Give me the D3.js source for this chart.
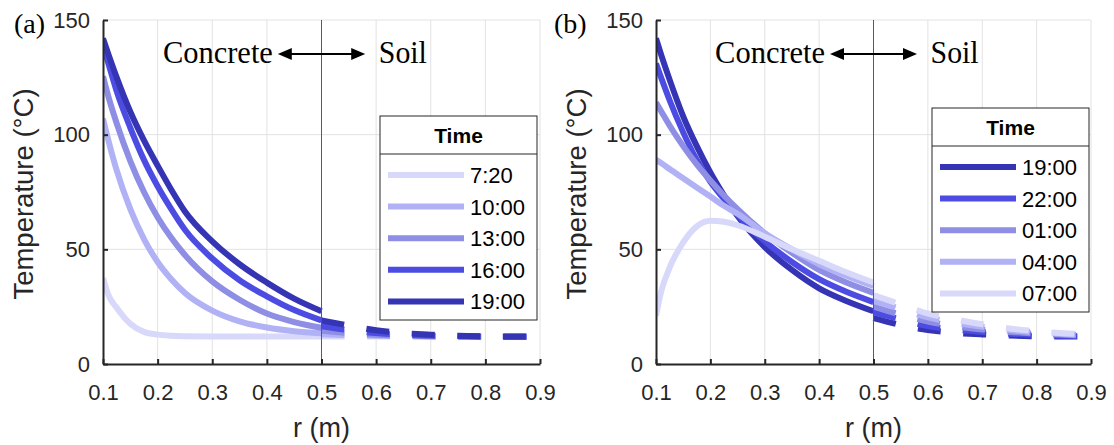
<!DOCTYPE html>
<html>
<head>
<meta charset="utf-8">
<script src="https://cdn.jsdelivr.net/npm/d3@7"></script>
<style>
  body { margin: 0; background: #fff; }
  svg { display: block; }
</style>
</head>
<body>
<svg id="chart" width="1114" height="445"></svg>
<script>
/* radius samples (m) */
var rConcrete = [0.1, 0.11, 0.125, 0.15, 0.175, 0.2, 0.225, 0.25, 0.3, 0.35, 0.4, 0.45, 0.5];
var rSoil = [0.5, 0.55, 0.6, 0.65, 0.7, 0.75, 0.8, 0.85, 0.9];
var xTicks = [0.1, 0.2, 0.3, 0.4, 0.5, 0.6, 0.7, 0.8, 0.9];
var yTicks = [0, 50, 100, 150];

// (a) heating
var timesA = ["7:20", "10:00", "13:00", "16:00", "19:00"];
var concreteA = [
  [37.5, 30, 24.5, 17.5, 14, 12.8, 12.3, 12.1, 12, 12, 12, 12, 12],
  [107, 97.4, 84.5, 67.5, 54.5, 44.5, 37, 31, 23.3, 18.6, 15.9, 14.3, 13.4],
  [125.5, 116.5, 105, 88.5, 75, 64, 55, 47.5, 36, 28, 22, 18.3, 15.8],
  [139, 131, 119, 103, 89, 77.5, 67.5, 58.5, 46, 36.5, 29.5, 23.5, 19],
  [142, 135, 125, 110, 97.5, 86.5, 76, 66.5, 53.5, 43.5, 35.5, 28.5, 23]
];
var soilA = [
  [12, 12, 12, 12, 12, 12, 12, 11.9, 11.9],
  [13, 12.6, 12.3, 12.1, 12, 12, 11.9, 11.9, 11.9],
  [14.5, 13.5, 12.8, 12.4, 12.1, 12, 11.9, 11.9, 11.9],
  [16.5, 14.8, 13.5, 12.8, 12.4, 12.1, 12, 11.9, 11.9],
  [19, 16.8, 14.7, 13.5, 12.8, 12.3, 12.1, 12, 11.9]
];

// (b) cooling
var timesB = ["19:00", "22:00", "01:00", "04:00", "07:00"];
var concreteB = [
  [142, 134.5, 124, 108, 95, 83.5, 73.5, 64.5, 51, 41, 33, 27.5, 23],
  [131, 124.5, 115, 101, 89, 79.5, 72, 65, 53.5, 44.5, 37, 31.5, 27],
  [114, 110, 104, 95, 87, 80, 73.5, 67.5, 57, 48.5, 41, 35.5, 31],
  [89, 87.5, 85, 81, 77, 73, 69, 65.5, 57, 50, 43.5, 38.5, 34],
  [21, 32, 42, 53, 60, 62.5, 62, 60.5, 55.5, 50, 45, 40, 35.5]
];
var soilB = [
  [20, 17, 14.8, 13.6, 12.9, 12.4, 12.1, 12, 11.9],
  [22.5, 19.5, 16.5, 15, 14, 13.2, 12.7, 12.3, 12.1],
  [25, 21.5, 18.5, 16.5, 15, 14, 13.3, 12.7, 12.3],
  [27.5, 24, 20.3, 18, 16.2, 14.8, 13.8, 13.1, 12.6],
  [30, 26, 22, 19.5, 17.3, 15.5, 14.3, 13.4, 12.8]
];

var blues = ["#d8d8fb", "#b1b1f6", "#8e8ee4", "#4c4ce2", "#3434b4"];

var svg = d3.select("#chart");
var TOP = 20, BOTTOM = 364;
var SANS = "'Liberation Sans', Arial, Helvetica, sans-serif";
var SERIF = "'Liberation Serif', 'Times New Roman', serif";
var INK = "#262626";

drawPanel({ id: "a", letter: "(a)", letterX: 14, left: 103, right: 540,
  times: timesA, concrete: concreteA, soil: soilA, colors: blues,
  legend: { x: 380, y: 116 } });
drawPanel({ id: "b", letter: "(b)", letterX: 554, left: 656, right: 1091,
  times: timesB, concrete: concreteB, soil: soilB, colors: blues.slice().reverse(),
  legend: { x: 932, y: 108 } });

function drawPanel(p) {
  var g = svg.append("g").attr("class", "panel-" + p.id);
  var x = d3.scaleLinear().domain([0.1, 0.9]).range([p.left, p.right]);
  var y = d3.scaleLinear().domain([0, 150]).range([BOTTOM, TOP]);

  // grid
  var grid = g.append("g").attr("stroke", "#e2e2e2").attr("stroke-width", 1);
  grid.selectAll(".gx").data(xTicks.slice(1)).join("line")
    .attr("x1", d => x(d)).attr("x2", d => x(d))
    .attr("y1", y(0)).attr("y2", y(150));
  grid.selectAll(".gy").data(yTicks.slice(1)).join("line")
    .attr("x1", x(0.1)).attr("x2", x(0.9))
    .attr("y1", d => y(d)).attr("y2", d => y(d));

  g.append("clipPath").attr("id", "clip-" + p.id)
    .append("rect")
    .attr("x", x(0.1)).attr("y", y(150))
    .attr("width", x(0.9) - x(0.1)).attr("height", y(0) - y(150));

  var line = d3.line()
    .x(d => x(d[0])).y(d => y(d[1]))
    .curve(d3.curveMonotoneX);

  var lines = g.append("g").attr("clip-path", "url(#clip-" + p.id + ")")
    .attr("fill", "none").attr("stroke-width", 6).attr("stroke-linejoin", "round");

  p.times.forEach((t, i) => {
    lines.append("path")
      .datum(d3.zip(rConcrete, p.concrete[i]))
      .attr("d", line)
      .attr("stroke", p.colors[i]);
    lines.append("path")
      .datum(d3.zip(rSoil, p.soil[i]))
      .attr("d", line)
      .attr("stroke", p.colors[i])
      .attr("stroke-dasharray", "23,22.6");
  });

  // concrete / soil interface
  g.append("line")
    .attr("x1", x(0.5)).attr("x2", x(0.5))
    .attr("y1", y(0)).attr("y2", y(150))
    .attr("stroke", "#5a5a5a").attr("stroke-width", 1);

  // axes
  var xAxis = g.append("g")
    .attr("transform", "translate(0," + BOTTOM + ")")
    .call(d3.axisBottom(x).tickValues(xTicks).tickFormat(d3.format(".1f"))
      .tickSize(-5).tickSizeOuter(0).tickPadding(20));
  var yAxis = g.append("g")
    .attr("transform", "translate(" + p.left + ",0)")
    .call(d3.axisLeft(y).tickValues(yTicks)
      .tickSize(-5).tickSizeOuter(0).tickPadding(13));

  [xAxis, yAxis].forEach(ax => {
    ax.select(".domain").attr("stroke", INK).attr("stroke-width", 2);
    ax.selectAll(".tick line").attr("stroke", INK).attr("stroke-width", 2);
    ax.selectAll(".tick text")
      .attr("fill", INK)
      .style("font-family", SANS)
      .style("font-size", "22px");
  });

  g.append("text")
    .attr("x", x(0.5)).attr("y", 437)
    .attr("text-anchor", "middle")
    .style("font-family", SANS).style("font-size", "27px").attr("fill", INK)
    .text("r (m)");

  g.append("text")
    .attr("transform", "translate(" + (p.left - 70) + ",194) rotate(-90)")
    .attr("text-anchor", "middle")
    .style("font-family", SANS).style("font-size", "27.5px").attr("fill", INK)
    .text("Temperature (°C)");

  g.append("text")
    .attr("x", p.letterX).attr("y", 33)
    .style("font-family", SERIF).style("font-size", "28px")
    .text(p.letter);

  // Concrete <-> Soil annotation
  var ay = y(135.2), x0 = x(0.42), x1 = x(0.58), head = 14, half = 6;
  g.append("line")
    .attr("x1", x0 + head - 1).attr("x2", x1 - head + 1)
    .attr("y1", ay).attr("y2", ay)
    .attr("stroke", "#000").attr("stroke-width", 2);
  g.append("path")
    .attr("d", "M" + x0 + "," + ay + "L" + (x0 + head) + "," + (ay - half) + "L" + (x0 + head) + "," + (ay + half) + "Z" +
               "M" + x1 + "," + ay + "L" + (x1 - head) + "," + (ay - half) + "L" + (x1 - head) + "," + (ay + half) + "Z")
    .attr("fill", "#000");
  g.append("text")
    .attr("x", x(0.411)).attr("y", y(131.2))
    .attr("text-anchor", "end")
    .attr("textLength", 110).attr("lengthAdjust", "spacingAndGlyphs")
    .style("font-family", SERIF).style("font-size", "32px")
    .text("Concrete");
  g.append("text")
    .attr("x", x(0.605)).attr("y", y(131.2))
    .attr("textLength", 48).attr("lengthAdjust", "spacingAndGlyphs")
    .style("font-family", SERIF).style("font-size", "32px")
    .text("Soil");

  drawLegend(g, p);
}

function drawLegend(g, p) {
  var L = p.legend, w = 157, h = 204, titleH = 38, rowH = 31.6;
  var lg = g.append("g").attr("transform", "translate(" + L.x + "," + L.y + ")");
  lg.append("rect")
    .attr("width", w).attr("height", h)
    .attr("fill", "#fff").attr("stroke", INK).attr("stroke-width", 1);
  lg.append("line")
    .attr("x1", 0).attr("x2", w).attr("y1", titleH).attr("y2", titleH)
    .attr("stroke", INK).attr("stroke-width", 1);
  lg.append("text")
    .attr("x", w / 2).attr("y", titleH - 11)
    .attr("text-anchor", "middle")
    .style("font-family", SANS).style("font-size", "21px").style("font-weight", "bold")
    .text("Time");

  var rows = lg.selectAll(".row").data(p.times).join("g")
    .attr("transform", (d, i) => "translate(0," + (titleH + 21 + i * rowH) + ")");
  rows.append("line")
    .attr("x1", 8).attr("x2", 84)
    .attr("stroke", (d, i) => p.colors[i]).attr("stroke-width", 6);
  rows.append("text")
    .attr("x", 90).attr("y", 8)
    .style("font-family", SANS).style("font-size", "22px").attr("fill", "#000")
    .text(d => d);
}
</script>
</body>
</html>
